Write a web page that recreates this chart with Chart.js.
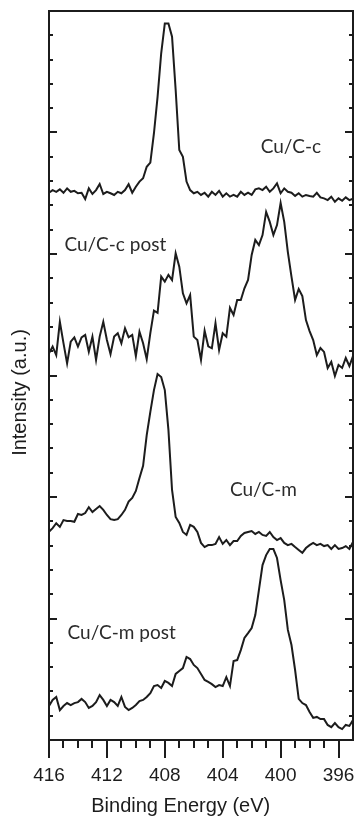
<!DOCTYPE html>
<html>
<head>
<meta charset="utf-8">
<style>
  html, body { margin: 0; padding: 0; background: #ffffff; }
  canvas { display: block; }
</style>
<script src="https://cdn.jsdelivr.net/npm/chart.js@4/dist/chart.umd.min.js"></script>
</head>
<body>
<canvas id="chart" width="359" height="817"></canvas>
<script>
// Binding energy grid (eV), shared by all four spectra
const energies = [
  416, 415.75, 415.5, 415.25, 415, 414.75, 414.5, 414.25, 414, 413.75,
  413.5, 413.25, 413, 412.75, 412.5, 412.25, 412, 411.75, 411.5, 411.25,
  411, 410.75, 410.5, 410.25, 410, 409.75, 409.5, 409.25, 409, 408.75,
  408.5, 408.25, 408, 407.75, 407.5, 407.25, 407, 406.75, 406.5, 406.25,
  406, 405.75, 405.5, 405.25, 405, 404.75, 404.5, 404.25, 404, 403.75,
  403.5, 403.25, 403, 402.75, 402.5, 402.25, 402, 401.75, 401.5, 401.25,
  401, 400.75, 400.5, 400.25, 400, 399.75, 399.5, 399.25, 399, 398.75,
  398.5, 398.25, 398, 397.75, 397.5, 397.25, 397, 396.75, 396.5, 396.25,
  396, 395.75, 395.5, 395.25, 395
];

// Stacked intensities (a.u.), offset so the traces do not overlap
const cuCc = [
  22.52, 22.63, 22.56, 22.66, 22.52, 22.70, 22.56, 22.60, 22.50, 22.52,
  22.26, 22.70, 22.47, 22.63, 22.88, 22.47, 22.56, 22.50, 22.43, 22.56,
  22.50, 22.63, 22.87, 22.52, 22.77, 22.98, 23.12, 23.59, 23.76, 24.97,
  26.47, 28.26, 29.49, 29.49, 28.94, 26.75, 24.28, 24.00, 22.98, 22.63,
  22.50, 22.56, 22.43, 22.52, 22.36, 22.56, 22.43, 22.60, 22.36, 22.50,
  22.36, 22.43, 22.36, 22.56, 22.43, 22.52, 22.43, 22.66, 22.70, 22.63,
  22.77, 22.56, 22.70, 22.91, 22.50, 22.70, 22.56, 22.52, 22.39, 22.50,
  22.36, 22.43, 22.39, 22.36, 22.52, 22.33, 22.29, 22.22, 22.36, 22.15,
  22.29, 22.19, 22.33, 22.22, 22.28
];

const cuCcPost = [
  15.91, 16.19, 15.84, 17.21, 16.33, 15.50, 16.39, 16.57, 16.19, 16.57,
  16.67, 15.98, 16.60, 15.64, 16.60, 17.21, 16.46, 15.88, 16.60, 16.74,
  16.33, 16.94, 16.57, 16.67, 15.80, 16.80, 16.33, 15.67, 16.74, 17.67,
  17.58, 19.07, 18.86, 19.14, 18.93, 20.03, 19.48, 18.38, 17.97, 18.31,
  16.60, 16.46, 15.64, 16.84, 16.20, 16.12, 17.15, 16.05, 16.74, 16.60,
  17.78, 17.49, 18.11, 18.11, 18.59, 18.93, 19.96, 20.58, 20.37, 20.78,
  21.73, 21.32, 20.78, 21.19, 22.10, 21.32, 20.08, 19.07, 18.11, 18.56,
  18.27, 17.28, 16.83, 16.46, 15.84, 16.13, 15.97, 15.31, 15.56, 14.98,
  15.43, 15.31, 15.72, 15.39, 15.80
];

const cuCm = [
  8.57, 8.72, 8.92, 8.77, 9.05, 9.01, 9.01, 8.98, 9.30, 9.26,
  9.34, 9.58, 9.38, 9.51, 9.63, 9.47, 9.26, 9.09, 9.05, 9.09,
  9.26, 9.47, 9.81, 9.96, 10.25, 10.78, 11.28, 12.55, 13.50, 14.40,
  15.06, 14.94, 14.40, 12.76, 10.29, 9.18, 8.93, 8.56, 8.44, 8.85,
  8.77, 8.56, 8.11, 7.94, 8.02, 8.02, 8.07, 8.35, 8.07, 8.23,
  8.02, 8.19, 8.19, 8.40, 8.52, 8.56, 8.60, 8.48, 8.56, 8.44,
  8.40, 8.56, 8.35, 8.23, 8.31, 8.11, 8.02, 8.07, 7.94, 7.82,
  7.70, 7.90, 8.02, 8.11, 8.02, 8.07, 7.98, 8.02, 7.86, 8.02,
  7.86, 7.90, 7.98, 7.86, 8.15
];

const cuCmPost = [
  1.40, 1.65, 1.77, 1.23, 1.40, 1.52, 1.44, 1.52, 1.56, 1.69,
  1.56, 1.32, 1.40, 1.56, 1.85, 1.65, 1.40, 1.65, 1.56, 1.40,
  1.77, 1.36, 1.23, 1.32, 1.44, 1.60, 1.65, 1.77, 1.93, 2.22,
  2.26, 2.14, 2.43, 2.35, 2.22, 2.72, 2.84, 2.96, 3.42, 3.33,
  3.09, 2.96, 2.72, 2.47, 2.39, 2.30, 2.18, 2.26, 2.22, 2.59,
  2.22, 3.25, 3.29, 3.70, 4.20, 4.40, 4.61, 5.14, 6.17, 7.20,
  7.61, 7.86, 7.86, 7.49, 6.58, 5.76, 4.53, 3.91, 2.88, 1.69,
  1.52, 1.44, 1.15, 0.91, 0.95, 0.86, 0.86, 0.62, 0.53, 0.70,
  0.53, 0.45, 0.62, 0.58, 0.82
];

// Sample names written next to each trace
const seriesNames = ['Cu/C-c', 'Cu/C-c post', 'Cu/C-m', 'Cu/C-m post'];
// Labelled binding-energy ticks
const xTickLabels = [416, 412, 408, 404, 400, 396];

const series = [cuCc, cuCcPost, cuCm, cuCmPost];
const INK = '#1c1c1c';

function toPoints(values) {
  return values.map((v, i) => ({ x: energies[i], y: v }));
}

// Inward/outward tick marks, closed frame, axis titles and trace names
const decorations = {
  id: 'decorations',
  afterDraw(chart) {
    const { ctx, chartArea: ca, scales: { x, y } } = chart;
    ctx.save();
    ctx.strokeStyle = INK;
    ctx.lineWidth = 2;
    ctx.lineCap = 'butt';

    // frame: top and right edges
    ctx.beginPath();
    ctx.moveTo(ca.left, ca.top);
    ctx.lineTo(ca.right, ca.top);
    ctx.lineTo(ca.right, ca.bottom);
    ctx.stroke();

    // x ticks below the axis, long at labelled energies
    for (let e = 396; e <= 416; e++) {
      const px = Math.round(x.getPixelForValue(e));
      const len = xTickLabels.includes(e) ? 18 : 8;
      ctx.beginPath();
      ctx.moveTo(px, ca.bottom);
      ctx.lineTo(px, ca.bottom + len);
      ctx.stroke();
    }

    // y ticks pointing inward on both sides
    for (let v = 1; v < 30; v++) {
      const py = Math.round(y.getPixelForValue(v));
      const len = v % 5 === 0 ? 8 : 4;
      ctx.beginPath();
      ctx.moveTo(ca.left, py);
      ctx.lineTo(ca.left + len, py);
      ctx.moveTo(ca.right, py);
      ctx.lineTo(ca.right - len, py);
      ctx.stroke();
    }

    // axis titles
    ctx.fillStyle = INK;
    ctx.font = '20px "Liberation Sans", Arial, sans-serif';
    ctx.textAlign = 'center';
    ctx.textBaseline = 'middle';
    ctx.fillText('Binding Energy (eV)', x.getPixelForValue(406.9), 806);
    ctx.save();
    ctx.translate(20, y.getPixelForValue(14.3));
    ctx.rotate(-Math.PI / 2);
    ctx.fillText('Intensity (a.u.)', 0, 0);
    ctx.restore();

    // trace names
    const spots = [[401.38, 24.4], [414.93, 20.37], [403.5, 10.29], [414.72, 4.40]];
    ctx.font = '19px Lato, "Open Sans", sans-serif';
    ctx.fillStyle = '#2b2b2b';
    ctx.textAlign = 'left';
    seriesNames.forEach((name, i) => {
      ctx.fillText(name, x.getPixelForValue(spots[i][0]), y.getPixelForValue(spots[i][1]));
    });
    ctx.restore();
  }
};

new Chart(document.getElementById('chart'), {
  type: 'line',
  data: {
    datasets: series.map((vals, i) => ({
      label: seriesNames[i],
      data: toPoints(vals),
      borderColor: INK,
      borderWidth: 2,
      pointRadius: 0,
      tension: 0,
      fill: false
    }))
  },
  options: {
    responsive: false,
    animation: false,
    devicePixelRatio: 1,
    layout: { padding: { top: 11, right: 2, left: 0, bottom: 0 } },
    plugins: { legend: { display: false }, tooltip: { enabled: false } },
    scales: {
      x: {
        type: 'linear',
        reverse: true,
        min: 395,
        max: 416,
        afterFit: (s) => { s.height = 77; },
        border: { display: true, color: INK, width: 2 },
        grid: { drawOnChartArea: false, drawTicks: true, tickLength: 18, tickColor: 'rgba(0,0,0,0)' },
        ticks: {
          stepSize: 1,
          autoSkip: false,
          maxRotation: 0,
          padding: 6,
          color: INK,
          font: { family: '"Liberation Sans", Arial, sans-serif', size: 19 },
          callback: (v) => (xTickLabels.includes(v) ? String(v) : '')
        }
      },
      y: {
        min: 0,
        max: 30,
        afterFit: (s) => { s.width = 49; },
        border: { display: true, color: INK, width: 2 },
        grid: { drawOnChartArea: false, drawTicks: false },
        ticks: { display: false, stepSize: 1 }
      }
    }
  },
  plugins: [decorations]
});
</script>
</body>
</html>
